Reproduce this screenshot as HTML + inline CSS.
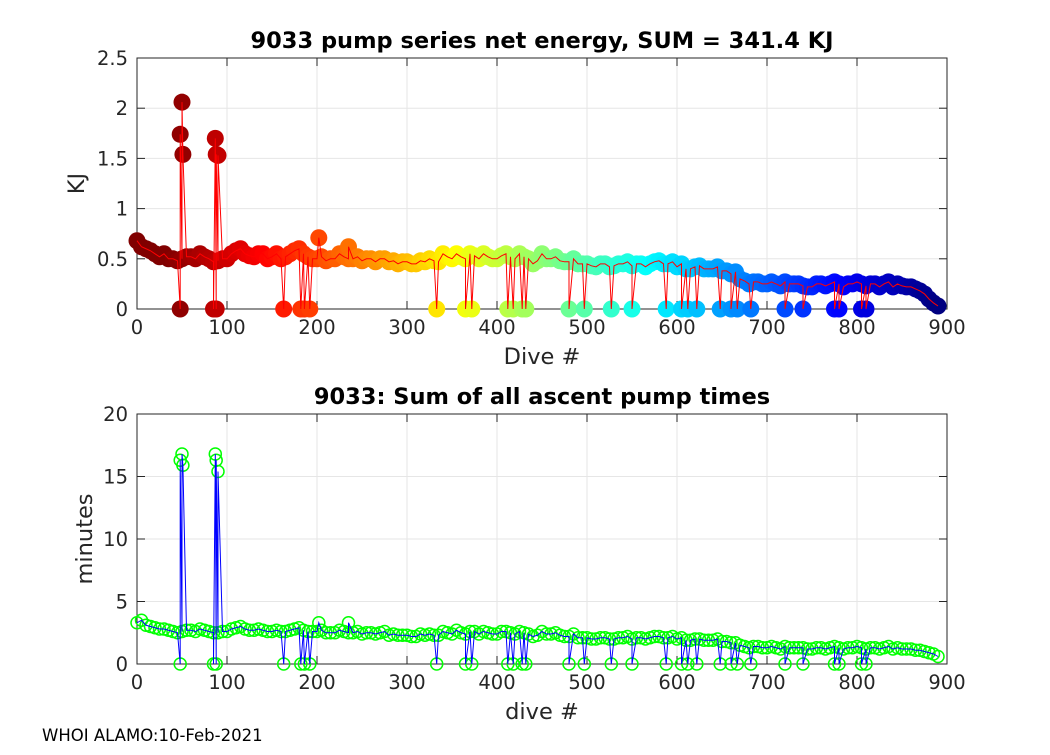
<!DOCTYPE html>
<html><head><meta charset="utf-8">
<style>
body{margin:0;background:#fff;}
svg text{font-family:"DejaVu Sans","Liberation Sans",sans-serif;fill:#262626;}
</style></head>
<body>
<svg id="chart" width="1050" height="750" xmlns="http://www.w3.org/2000/svg">
<rect width="1050" height="750" fill="#fff"/>
</svg>
<script>
const baseDives = [0,10,20,30,40,50,60,70,80,90,100,110,120,130,140,150,160,170,180,190,200,210,220,230,240,250,260,270,280,290,300,310,320,330,340,350,360,370,380,390,400,410,420,430,440,450,460,470,480,490,500,510,520,530,540,550,560,570,580,590,600,610,620,630,640,650,660,670,680,690,700,710,720,730,740,750,760,770,780,790,800,810,820,830,840,850,860,870,880,890];
const energyKJ = [0.68,0.6,0.55,0.55,0.5,0.5,0.52,0.55,0.5,0.48,0.5,0.58,0.55,0.52,0.55,0.52,0.5,0.55,0.6,0.52,0.5,0.48,0.5,0.52,0.5,0.48,0.5,0.5,0.47,0.45,0.47,0.45,0.47,0.48,0.55,0.5,0.52,0.55,0.5,0.52,0.5,0.55,0.5,0.52,0.45,0.55,0.5,0.48,0.47,0.45,0.45,0.42,0.45,0.43,0.45,0.43,0.45,0.45,0.48,0.45,0.42,0.4,0.42,0.4,0.4,0.38,0.35,0.3,0.25,0.27,0.25,0.25,0.27,0.25,0.23,0.22,0.25,0.25,0.25,0.25,0.27,0.23,0.25,0.25,0.22,0.23,0.22,0.18,0.1,0.03];
const energyMidKJ = [0.62,0.58,0.52,0.5,0.48,0.52,0.5,0.52,0.47,0.5,0.55,0.6,0.53,0.55,0.5,0.55,0.52,0.58,0.55,0.5,0.52,0.5,0.55,0.5,0.52,0.5,0.47,0.5,0.48,0.47,0.45,0.48,0.5,0.47,0.52,0.55,0.5,0.53,0.55,0.5,0.53,0.52,0.55,0.5,0.48,0.5,0.52,0.47,0.5,0.45,0.43,0.45,0.42,0.45,0.47,0.45,0.42,0.47,0.45,0.47,0.45,0.4,0.43,0.4,0.42,0.38,0.37,0.28,0.27,0.25,0.27,0.23,0.25,0.25,0.22,0.25,0.23,0.27,0.22,0.25,0.25,0.25,0.22,0.27,0.25,0.22,0.2,0.15,0.06];
const pumpMin = [3.3,3.1,2.9,2.8,2.6,2.6,2.7,2.8,2.6,2.5,2.6,2.9,2.8,2.7,2.7,2.6,2.6,2.7,2.9,2.6,2.6,2.5,2.5,2.6,2.5,2.4,2.5,2.5,2.3,2.3,2.3,2.2,2.3,2.3,2.6,2.4,2.5,2.6,2.4,2.5,2.4,2.6,2.4,2.5,2.2,2.6,2.4,2.3,2.2,2.1,2.1,2.0,2.1,2.0,2.1,2.0,2.1,2.1,2.2,2.1,2.0,1.9,2.0,1.9,1.9,1.8,1.7,1.5,1.3,1.4,1.3,1.3,1.4,1.3,1.3,1.2,1.3,1.3,1.3,1.3,1.4,1.2,1.3,1.3,1.2,1.2,1.2,1.1,0.9,0.6];
const pumpMidMin = [3.5,3.0,2.8,2.7,2.5,2.7,2.6,2.7,2.5,2.6,2.8,3.0,2.7,2.8,2.6,2.7,2.6,2.8,2.7,2.6,2.7,2.5,2.7,2.5,2.6,2.5,2.4,2.6,2.4,2.3,2.2,2.4,2.4,2.3,2.5,2.7,2.4,2.6,2.6,2.4,2.6,2.5,2.6,2.4,2.3,2.4,2.5,2.2,2.4,2.1,2.0,2.1,2.0,2.1,2.2,2.1,2.0,2.2,2.1,2.2,2.1,1.9,2.0,1.9,2.0,1.8,1.7,1.4,1.4,1.3,1.4,1.2,1.3,1.3,1.2,1.3,1.2,1.4,1.2,1.3,1.3,1.3,1.2,1.4,1.3,1.2,1.1,1.0,0.8];
const zeroDives = [48,85,88,163,182,186,192,333,365,372,412,418,428,432,480,497,527,550,588,605,612,622,648,660,667,682,720,740,775,780,805,810];
const spikeDives = [48,50,51,87,88,90,202,235];
const spikeKJ = [1.74,2.06,1.54,1.7,1.54,1.53,0.71,0.62];
const spikeMin = [16.3,16.8,15.9,16.8,16.3,15.4,3.3,3.3];
const xTicks = [0,100,200,300,400,500,600,700,800,900];
const yTicksTop = [0,0.5,1,1.5,2,2.5];
const yTickTopLabels = ["0","0.5","1","1.5","2","2.5"];
const yTicksBot = [0,5,10,15,20];

const svg = document.getElementById('chart');
const NS = 'http://www.w3.org/2000/svg';
function el(tag, attrs, parent){const e=document.createElementNS(NS,tag);for(const k in attrs)e.setAttribute(k,attrs[k]);(parent||svg).appendChild(e);return e;}
const X0=137,X1=947;
const xs = d => X0 + (d/900)*(X1-X0);
const yTop = v => 309 - v/2.5*(309-58);
const yBot = v => 664 - v/20*(664-414);

function jet(x){const c=t=>Math.max(0,Math.min(1,t));return `rgb(${Math.round(255*c(1.5-Math.abs(4*x-3)))},${Math.round(255*c(1.5-Math.abs(4*x-2)))},${Math.round(255*c(1.5-Math.abs(4*x-1)))})`;}
function colorFor(d){ const t=d/890; return jet(Math.min(1, 1.04 - t*1.04)); }

function buildSeries(vals, midVals, spikeVals){
  const pts = baseDives.map((d,i)=>({d, v: vals[i]}));
  midVals.forEach((v,i)=>{ if(v!==undefined) pts.push({d: 5+10*i, v}); });
  zeroDives.forEach(d=>pts.push({d, v:0}));
  spikeDives.forEach((d,i)=>pts.push({d, v:spikeVals[i]}));
  pts.sort((a,b)=>a.d-b.d);
  return pts;
}

function axes(name, yTopPx, yBotPx, yT, yLabels, yFn, title, xlabel, ylabel, ylabelX){
  const g = el('g',{});
  
  
  xTicks.forEach(t=>{
    const gl=el('line',{x1:xs(t),x2:xs(t),y1:yTopPx,y2:yBotPx,stroke:'#e6e6e6','stroke-width':1},g);
    
  });
  yT.forEach(t=>{
    const gl=el('line',{x1:X0,x2:X1,y1:yFn(t),y2:yFn(t),stroke:'#e6e6e6','stroke-width':1},g);
    
  });
  const box=el('rect',{x:X0,y:yTopPx,width:X1-X0,height:yBotPx-yTopPx,fill:'none',stroke:'#262626','stroke-width':1},g);
  
  xTicks.forEach(t=>{
    el('line',{x1:xs(t),x2:xs(t),y1:yBotPx,y2:yBotPx-8,stroke:'#262626'},g);
    el('line',{x1:xs(t),x2:xs(t),y1:yTopPx,y2:yTopPx+8,stroke:'#262626'},g);
    const tx=el('text',{x:xs(t),y:yBotPx+25,'text-anchor':'middle','font-size':19.5},g);tx.textContent=t;
    
  });
  yT.forEach((t,i)=>{
    el('line',{x1:X0,x2:X0+8,y1:yFn(t),y2:yFn(t),stroke:'#262626'},g);
    el('line',{x1:X1,x2:X1-8,y1:yFn(t),y2:yFn(t),stroke:'#262626'},g);
    const tx=el('text',{x:X0-9,y:yFn(t)+7,'text-anchor':'end','font-size':19.5},g);tx.textContent=yLabels[i];
    
  });
  const ti=el('text',{x:(X0+X1)/2,y:yTopPx-10,'text-anchor':'middle','font-size':22.5,'font-weight':'bold',style:'fill:#000'},g);ti.textContent=title;
  
  const xl=el('text',{x:(X0+X1)/2,y:yBotPx+55,'text-anchor':'middle','font-size':22.5},g);xl.textContent=xlabel;
  
  const cy=(yTopPx+yBotPx)/2;
  const yl=el('text',{x:ylabelX,y:cy,'text-anchor':'middle','font-size':22.5,transform:`rotate(-90 ${ylabelX} ${cy})`},g);yl.textContent=ylabel;
  
}

axes('energy-axes',58,309,yTicksTop,yTickTopLabels,yTop,'9033 pump series net energy, SUM = 341.4 KJ','Dive #','KJ',84);
const topPts = buildSeries(energyKJ, energyMidKJ, spikeKJ);
const mg = el('g',{});

topPts.forEach(p=>{
  const c=el('circle',{cx:xs(p.d),cy:yTop(p.v),r:8.5,fill:colorFor(p.d)},mg);
  
  
});
const l1=el('polyline',{points:topPts.map(p=>xs(p.d)+','+yTop(p.v)).join(' '),fill:'none',stroke:'#ff0000','stroke-width':1});


axes('pump-time-axes',414,664,yTicksBot,yTicksBot.map(String),yBot,'9033: Sum of all ascent pump times','dive #','minutes',92);
const botPts = buildSeries(pumpMin, pumpMidMin, spikeMin);
const mg2 = el('g',{});

botPts.forEach(p=>{
  const c=el('circle',{cx:xs(p.d),cy:yBot(p.v),r:6,fill:'none',stroke:'#00ff00','stroke-width':1.5},mg2);
  
  
});
const l2=el('polyline',{points:botPts.map(p=>xs(p.d)+','+yBot(p.v)).join(' '),fill:'none',stroke:'#0000ff','stroke-width':1});


const foot=el('text',{x:42,y:741,'font-size':16.5,style:'fill:#000'});foot.textContent='WHOI ALAMO:10-Feb-2021';

</script>
</body></html>
